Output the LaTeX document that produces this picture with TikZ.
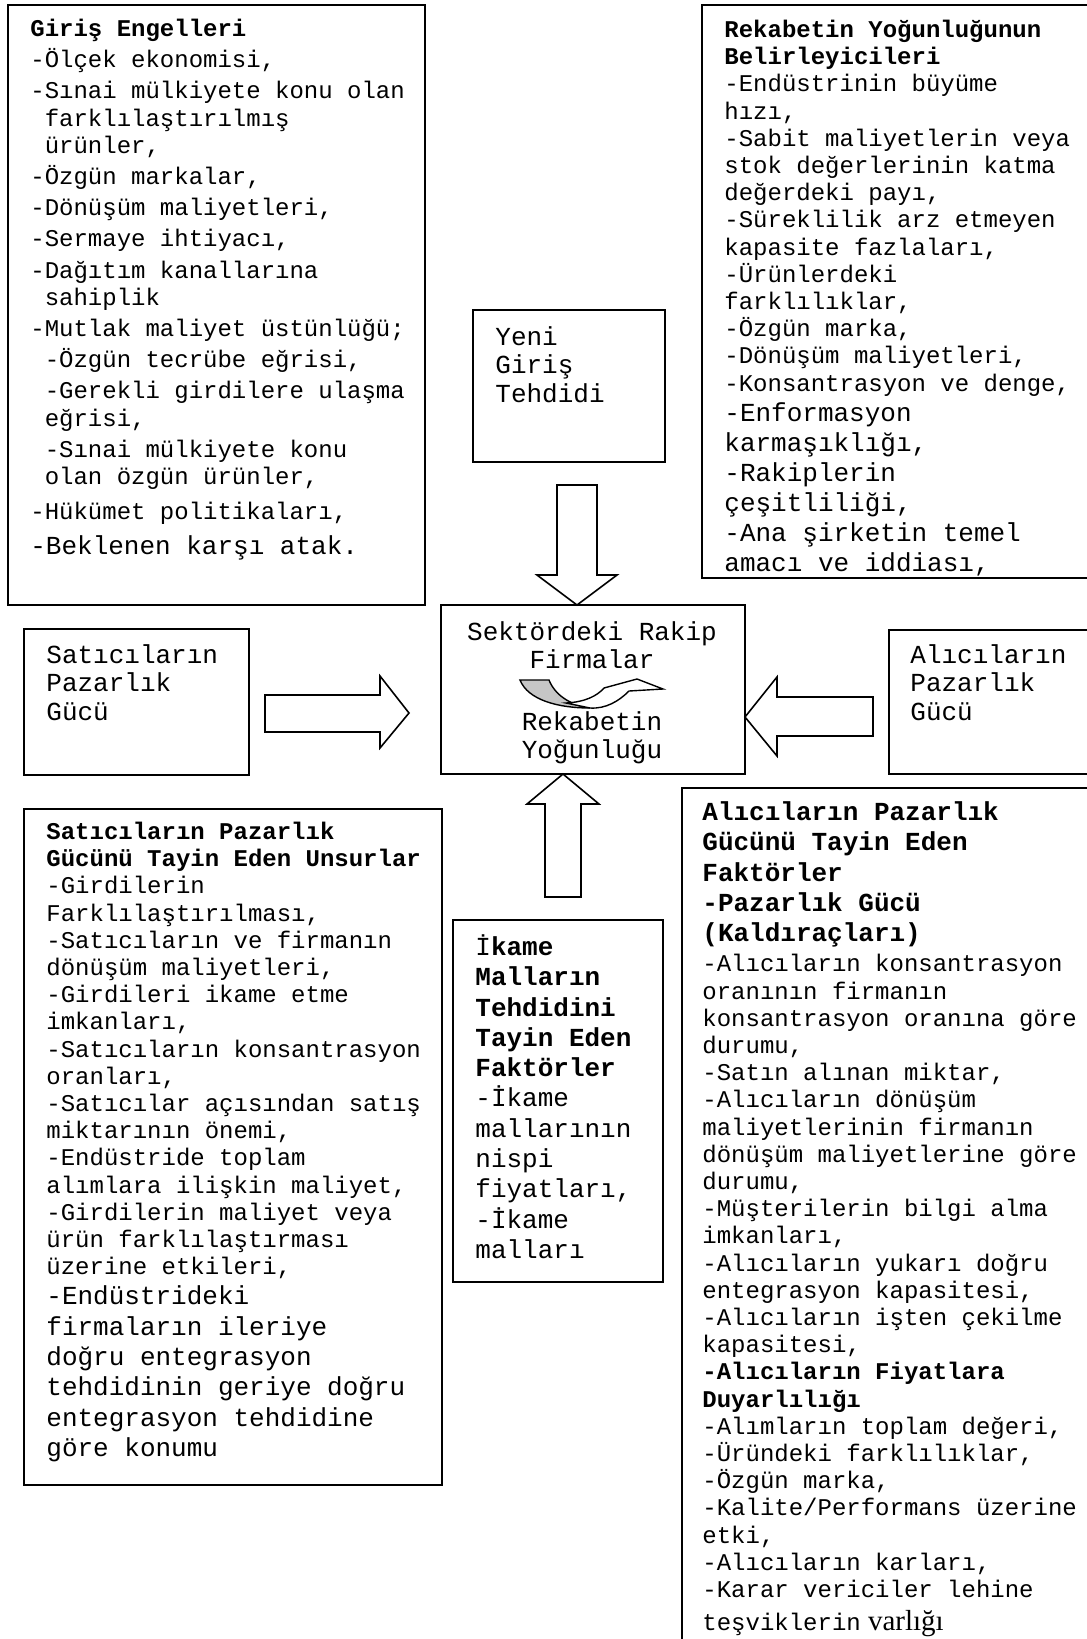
\documentclass[tikz,border=0pt]{standalone}
\usepackage{fontspec}
\setmainfont{Liberation Serif}
\setmonofont{Liberation Mono}
\usetikzlibrary{calc}

\newcommand\tstr{\rule{0pt}{14pt}}
\newcommand\ind{\hspace*{0.6em}}
\newcommand\pxiii{\fontsize{13}{15}\selectfont}

\begin{document}
\begin{tikzpicture}[x=0.5pt, y=-0.5pt,
    box/.style={draw, line width=0.9pt, anchor=north west, inner sep=0pt, outer sep=0pt},
    txt/.style={anchor=north west, inner sep=0pt, align=left, font=\ttfamily\fontsize{12}{13.6}\selectfont},
    bigtxt/.style={txt, font=\ttfamily\fontsize{13}{14.25}\selectfont},
    blockarrow/.style={draw, line width=0.8pt, fill=white, line join=miter}]
    \useasboundingbox (0,0) rectangle (1087,1639);
    \clip (0,0) rectangle (1087,1639);

    % The boxes
    \node[box, minimum width=208.5pt, minimum height=300pt] (giris) at (8,5) {};
    \node[box, minimum width=195pt, minimum height=286.5pt] (rekabet) at (702,5) {};
    \node[box, minimum width=96pt, minimum height=76pt] (yeni) at (473,310) {};
    \node[box, minimum width=152pt, minimum height=84.5pt] (rakip) at (441,605) {};
    \node[box, minimum width=112.5pt, minimum height=73pt] (satici) at (24,629) {};
    \node[box, minimum width=101.5pt, minimum height=72pt] (alici) at (889,630) {};
    \node[box, minimum width=209pt, minimum height=338pt] (saticiF) at (24,809) {};
    \node[box, minimum width=105pt, minimum height=181pt] (ikame) at (453,920) {};
    \node[box, line width=1.2pt, minimum width=205pt, minimum height=430pt] (aliciF) at (682,788) {};

    % Tips of the block arrows
    \coordinate (downtip) at ($(rakip.north)+(-16,0)$);
    \coordinate (uptip) at ($(rakip.south)+(-30,0)$);
    \coordinate (righttip) at ($(rakip.west)+(-32,23.5)$);
    \coordinate (lefttip) at ($(rakip.east)+(0,27.5)$);

    % Block arrows
    \draw[blockarrow, shift={(downtip)}] (0,0) -- (-40,-30) -- (-20,-30) -- (-20,-120) -- (20,-120) -- (20,-30) -- (40,-30) -- cycle;
    \draw[blockarrow, shift={(uptip)}] (0,0) -- (-36,30) -- (-18,30) -- (-18,123) -- (18,123) -- (18,30) -- (36,30) -- cycle;
    \draw[blockarrow, shift={(righttip)}] (0,0) -- (-29,-37) -- (-29,-18) -- (-144,-18) -- (-144,19) -- (-29,19) -- (-29,35) -- cycle;
    \draw[blockarrow, shift={(lefttip)}] (0,0) -- (32,-40) -- (32,-20) -- (128,-20) -- (128,19) -- (32,19) -- (32,39) -- cycle;

    % Curved arrow in the middle box
    \draw[line width=0.7pt, fill=gray!45] (520,680) -- (549,680) .. controls (555,695) and (570,705) .. (590,708) .. controls (558,708) and (528,700) .. cycle;
    \draw[line width=0.7pt, fill=white] (566,703) .. controls (585,702) and (597,696) .. (604,688) -- (637,679) -- (663,689) -- (629,691) .. controls (619,701) and (606,709) .. (590,708) -- cycle;

    % Texts
    \node[txt] (girisT) at ($(giris.north west)+(22,3)$) {\tstr\textbf{Giriş Engelleri}\\[2pt]
        -Ölçek ekonomisi,\\[2pt]
        -Sınai mülkiyete konu olan\\
        \ind farklılaştırılmış\\
        \ind ürünler,\\[2pt]
        -Özgün markalar,\\[2pt]
        -Dönüşüm maliyetleri,\\[2pt]
        -Sermaye ihtiyacı,\\[2pt]
        -Dağıtım kanallarına\\
        \ind sahiplik\\[2pt]
        -Mutlak maliyet üstünlüğü;\\[2pt]
        \ind-Özgün tecrübe eğrisi,\\[2pt]
        \ind-Gerekli girdilere ulaşma\\
        \ind eğrisi,\\[2pt]
        \ind-Sınai mülkiyete konu\\
        \ind olan özgün ürünler,\\[4pt]
        -Hükümet politikaları,\\[4pt]
        {\pxiii -Beklenen karşı atak.}};

    \node[txt] (rekabetT) at ($(rekabet.north west)+(22,4)$) {\tstr\textbf{Rekabetin Yoğunluğunun}\\
        \textbf{Belirleyicileri}\\
        -Endüstrinin büyüme\\
        hızı,\\
        -Sabit maliyetlerin veya\\
        stok değerlerinin katma\\
        değerdeki payı,\\
        -Süreklilik arz etmeyen\\
        kapasite fazlaları,\\
        -Ürünlerdeki\\
        farklılıklar,\\
        -Özgün marka,\\
        -Dönüşüm maliyetleri,\\
        -Konsantrasyon ve denge,\\[1.4pt]
        {\pxiii -Enformasyon}\\[1.4pt]
        {\pxiii karmaşıklığı,}\\[1.4pt]
        {\pxiii -Rakiplerin}\\[1.4pt]
        {\pxiii çeşitliliği,}\\[1.4pt]
        {\pxiii -Ana şirketin temel}\\[1.4pt]
        {\pxiii amacı ve iddiası,}};

    \node[bigtxt] (yeniT) at ($(yeni.north west)+(22,7)$) {\tstr Yeni\\Giriş\\Tehdidi};

    \node[bigtxt, anchor=north, align=center, font=\ttfamily\fontsize{13}{14}\selectfont] (rakipT) at ($(rakip.north)+(-1,7)$) {\tstr Sektördeki Rakip\\Firmalar};
    \node[bigtxt, anchor=north, align=center, font=\ttfamily\fontsize{13}{14}\selectfont] (yogunT) at ($(rakip.north)+(-1,97)$) {\tstr Rekabetin\\Yoğunluğu};

    \node[bigtxt] (saticiT) at ($(satici.north west)+(22,6)$) {\tstr Satıcıların\\Pazarlık\\Gücü};
    \node[bigtxt] (aliciT) at ($(alici.north west)+(21,5)$) {\tstr Alıcıların\\Pazarlık\\Gücü};

    \node[txt] (saticiFT) at ($(saticiF.north west)+(22,2)$) {\tstr\textbf{Satıcıların Pazarlık}\\
        \textbf{Gücünü Tayin Eden Unsurlar}\\
        -Girdilerin\\
        Farklılaştırılması,\\
        -Satıcıların ve firmanın\\
        dönüşüm maliyetleri,\\
        -Girdileri ikame etme\\
        imkanları,\\
        -Satıcıların konsantrasyon\\
        oranları,\\
        -Satıcılar açısından satış\\
        miktarının önemi,\\
        -Endüstride toplam\\
        alımlara ilişkin maliyet,\\
        -Girdilerin maliyet veya\\
        ürün farklılaştırması\\
        üzerine etkileri,\\[1.55pt]
        {\pxiii -Endüstrideki}\\[1.55pt]
        {\pxiii firmaların ileriye}\\[1.55pt]
        {\pxiii doğru entegrasyon}\\[1.55pt]
        {\pxiii tehdidinin geriye doğru}\\[1.55pt]
        {\pxiii entegrasyon tehdidine}\\[1.55pt]
        {\pxiii göre konumu}};

    \node[bigtxt, font=\ttfamily\fontsize{13}{15.15}\selectfont] (ikameT) at ($(ikame.north west)+(22,7)$) {\tstr İ\textbf{kame}\\
        \textbf{Malların}\\
        \textbf{Tehdidini}\\
        \textbf{Tayin Eden}\\
        \textbf{Faktörler}\\
        -İkame\\
        mallarının\\
        nispi\\
        fiyatları,\\
        -İkame\\
        malları};

    \node[txt] (aliciFT) at ($(aliciF.north west)+(20,4)$) {\tstr{\pxiii\bfseries Alıcıların Pazarlık}\\[1.55pt]
        {\pxiii\bfseries Gücünü Tayin Eden}\\[1.55pt]
        {\pxiii\bfseries Faktörler}\\[1.55pt]
        {\pxiii\bfseries -Pazarlık Gücü}\\[1.55pt]
        {\pxiii\bfseries (Kaldıraçları)}\\[1.55pt]
        -Alıcıların konsantrasyon\\
        oranının firmanın\\
        konsantrasyon oranına göre\\
        durumu,\\
        -Satın alınan miktar,\\
        -Alıcıların dönüşüm\\
        maliyetlerinin firmanın\\
        dönüşüm maliyetlerine göre\\
        durumu,\\
        -Müşterilerin bilgi alma\\
        imkanları,\\
        -Alıcıların yukarı doğru\\
        entegrasyon kapasitesi,\\
        -Alıcıların işten çekilme\\
        kapasitesi,\\
        \textbf{-Alıcıların Fiyatlara}\\
        \textbf{Duyarlılığı}\\
        -Alımların toplam değeri,\\
        -Üründeki farklılıklar,\\
        -Özgün marka,\\
        -Kalite/Performans üzerine\\
        etki,\\
        -Alıcıların karları,\\
        -Karar vericiler lehine\\[3.1pt]
        teşviklerin{\rmfamily\fontsize{14.5}{16}\selectfont\ varlığı}};
\end{tikzpicture}
\end{document}
